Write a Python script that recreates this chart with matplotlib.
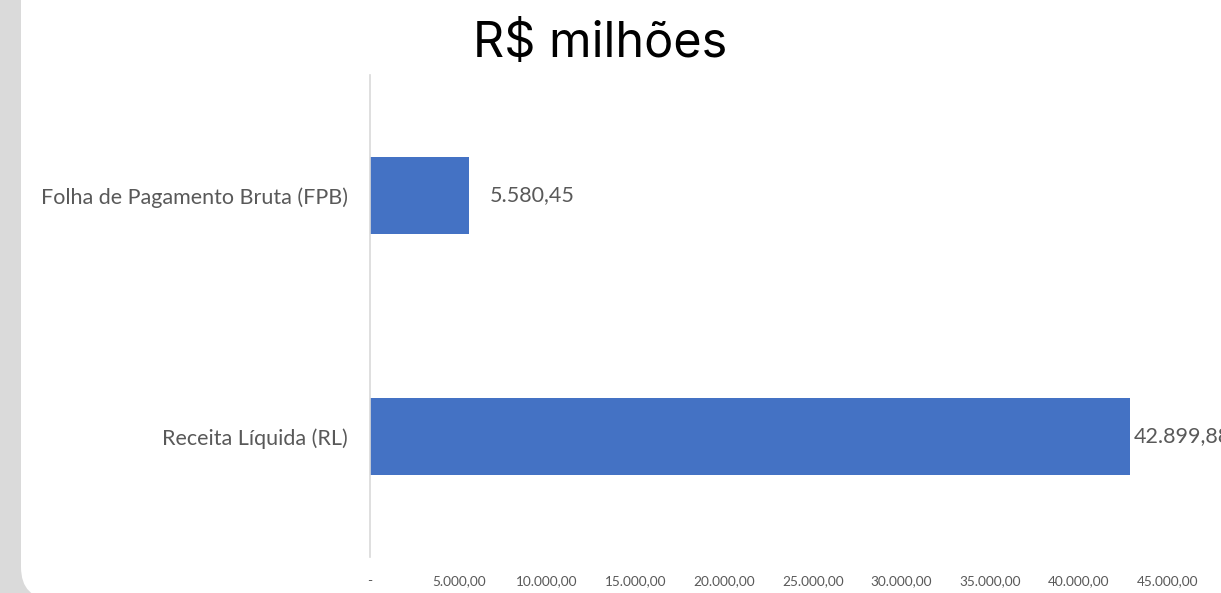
import matplotlib
matplotlib.use("Agg")
import matplotlib.pyplot as plt
from matplotlib.patches import FancyBboxPatch
from matplotlib.transforms import IdentityTransform

categories = ["Receita Líquida (RL)", "Folha de Pagamento Bruta (FPB)"]
values = [42899.88, 5580.45]
value_labels = ["42.899,88", "5.580,45"]
tick_values = [0, 5000, 10000, 15000, 20000, 25000, 30000, 35000, 40000, 45000]
tick_labels = ["-", "5.000,00", "10.000,00", "15.000,00", "20.000,00",
               "25.000,00", "30.000,00", "35.000,00", "40.000,00", "45.000,00"]
title = "R$ milhões"

W, H = 1221, 593
fig = plt.figure(figsize=(W / 100, H / 100), dpi=100)
fig.patch.set_facecolor("#dadada")

# white rounded card over the grey backdrop
card = FancyBboxPatch((21, -6), 1400, 700,
                      boxstyle="round,pad=0,rounding_size=32",
                      transform=IdentityTransform(), fc="white", ec="none", zorder=0)
fig.add_artist(card)

# axes placed in pixels: y axis at x=370, top 75, bottom 557; x=0..50000
x0, px_per_unit = 370, (1130 - 370) / 42899.88
xmax = 50000
ax = fig.add_axes([x0 / W, (H - 557) / H, xmax * px_per_unit / W, (557 - 75) / H])
ax.set_facecolor("none")

ax.barh(range(len(categories)), values, height=0.32, color="#4472C4", zorder=2)
ax.set_xlim(0, xmax)
ax.set_ylim(-0.5, len(categories) - 0.5)

# value labels (the long one runs off the right edge, as in the source image)
for i, (v, lab) in enumerate(zip(values, value_labels)):
    ax.annotate(lab, (v, i), xytext=(3 if i == 0 else 15, 0), textcoords="offset points",
                ha="left", va="center", fontsize=15.5, color="#595959", family="Lato")

ax.set_yticks(range(len(categories)))
ax.set_yticklabels(categories, fontsize=15.5, color="#595959", family="Lato")
ax.set_xticks(tick_values)
ax.set_xticklabels(tick_labels, fontsize=9.8, color="#595959", family="Lato")
ax.tick_params(axis="both", length=0)
ax.tick_params(axis="y", pad=16)
ax.tick_params(axis="x", pad=13)

for s in ["top", "right", "bottom"]:
    ax.spines[s].set_visible(False)
ax.spines["left"].set_color("#d9d9d9")
ax.spines["left"].set_linewidth(1.2)

fig.text(600 / W, 1 - 44 / H, title, ha="center", va="center",
         fontsize=35, color="black", family="Inter")

fig.savefig("out.png", dpi=100, facecolor=fig.get_facecolor())
